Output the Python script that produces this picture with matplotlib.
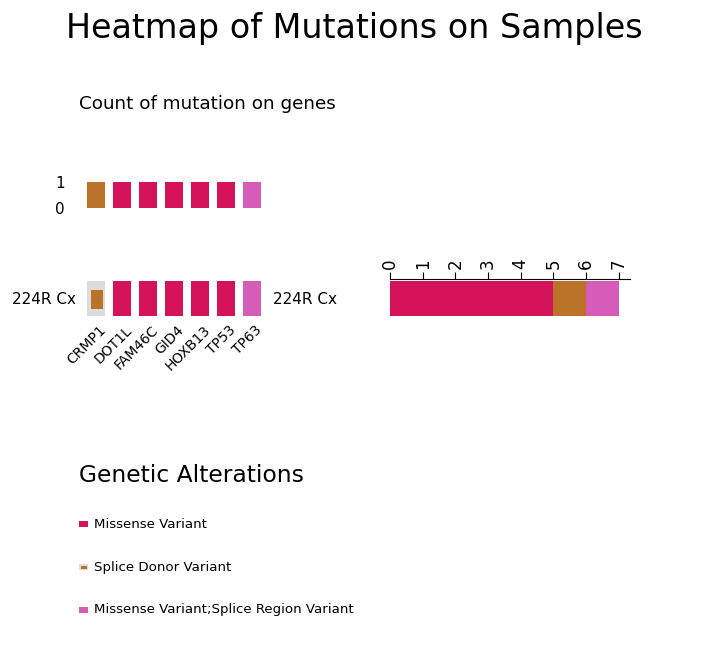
import matplotlib
matplotlib.use("Agg")
import matplotlib.pyplot as plt
from matplotlib.patches import Rectangle
import matplotlib.transforms as mtrans

# ---- data ----
genes = ["CRMP1", "DOT1L", "FAM46C", "GID4", "HOXB13", "TP53", "TP63"]
sample = "224R Cx"
gene_mutation = ["Splice Donor Variant", "Missense Variant", "Missense Variant",
                 "Missense Variant", "Missense Variant", "Missense Variant",
                 "Missense Variant;Splice Region Variant"]
mut_types = ["Missense Variant", "Splice Donor Variant",
             "Missense Variant;Splice Region Variant"]
colors = {"Missense Variant": "#D5135A",
          "Splice Donor Variant": "#BA7328",
          "Missense Variant;Splice Region Variant": "#D55DB8"}
bg_gray = "#DCDCDC"

W, H = 720, 668
fig = plt.figure(figsize=(W / 100, H / 100), dpi=100)


def ax_px(l, t, w, h):
    return fig.add_axes([l / W, 1 - (t + h) / H, w / W, h / H])


fig.text(354 / W, 1 - 28.5 / H, "Heatmap of Mutations on Samples", fontsize=24,
         ha="center", va="center")
fig.text(79 / W, 1 - 104 / H, "Count of mutation on genes", fontsize=13.2,
         ha="left", va="center")

n = len(genes)
bw = 0.69

# ---- top bar: counts per gene ----
axt = ax_px(83, 182, 182, 26)
for i, g in enumerate(genes):
    axt.bar(i + 0.5, 1, width=bw, color=colors[gene_mutation[i]], linewidth=0)
axt.set_xlim(0, n)
axt.set_ylim(0, 1)
axt.set_yticks([0, 1])
axt.set_yticklabels(["0", "1"], fontsize=11)
axt.tick_params(axis="y", length=0, pad=13)
axt.set_xticks([])
for s in axt.spines.values():
    s.set_visible(False)

# ---- main heatmap ----
axm = ax_px(83, 278.5, 182, 40)
axm.set_xlim(0, n)
axm.set_ylim(0, 1)
for i, g in enumerate(genes):
    m = gene_mutation[i]
    x0 = i + 0.5 - bw / 2
    if m == "Splice Donor Variant":
        axm.add_patch(Rectangle((x0, 0.06), bw, 0.88, color=bg_gray, lw=0))
        iw, ih = bw * 0.66, 0.48
        axm.add_patch(Rectangle((i + 0.5 - iw / 2 + 0.03, 0.5 - ih / 2 - 0.02), iw, ih,
                                color=colors[m], lw=0))
    else:
        axm.add_patch(Rectangle((x0, 0.06), bw, 0.88, color=colors[m], lw=0))
axm.set_xticks([i + 0.5 for i in range(n)])
axm.set_xticklabels(genes, rotation=45, ha="right", va="top", fontsize=10,
                    rotation_mode="anchor")
axm.tick_params(axis="x", length=0, pad=3)
offset = mtrans.ScaledTranslation(3 / 100, 0, fig.dpi_scale_trans)
for lab in axm.get_xticklabels():
    lab.set_transform(lab.get_transform() + offset)
axm.set_yticks([0.5])
axm.set_yticklabels([sample], fontsize=11)
axm.tick_params(axis="y", length=0, pad=5)
for s in axm.spines.values():
    s.set_visible(False)
fig.text(273 / W, 1 - 299 / H, sample, fontsize=11, ha="left", va="center")

# ---- right bar: counts per sample, stacked by type ----
counts = [sum(1 for m in gene_mutation if m == t) for t in mut_types]
axr = ax_px(390, 278.5, 240, 40)
left = 0
for t, c in zip(mut_types, counts):
    axr.barh(0.5, c, left=left, height=0.88, color=colors[t], linewidth=0)
    left += c
axr.set_xlim(0, sum(counts) * 1.05)
axr.set_ylim(0, 1)
axr.xaxis.tick_top()
axr.set_xticks(range(0, sum(counts) + 1))
axr.set_xticklabels([str(v) for v in range(0, sum(counts) + 1)],
                    rotation=90, fontsize=12)
axr.tick_params(axis="x", length=5, pad=2)
axr.set_yticks([])
for k in ["bottom", "left", "right"]:
    axr.spines[k].set_visible(False)

# ---- legend ----
fig.text(79 / W, 1 - 475 / H, "Genetic Alterations", fontsize=16.8,
         ha="left", va="center")
axl = ax_px(0, 0, W, H)
axl.set_xlim(0, W)
axl.set_ylim(H, 0)
axl.axis("off")
for k, (t, yy) in enumerate(zip(mut_types, [524, 567, 610])):
    if t == "Splice Donor Variant":
        axl.add_patch(Rectangle((79, yy - 3), 9, 6, color=bg_gray, lw=0))
        axl.add_patch(Rectangle((80.5, yy - 1.5), 6, 3, color=colors[t], lw=0))
    else:
        axl.add_patch(Rectangle((79, yy - 3), 9, 6, color=colors[t], lw=0))
    axl.text(94, yy, t, fontsize=9.6, ha="left", va="center")

fig.savefig("out.png", dpi=100)
